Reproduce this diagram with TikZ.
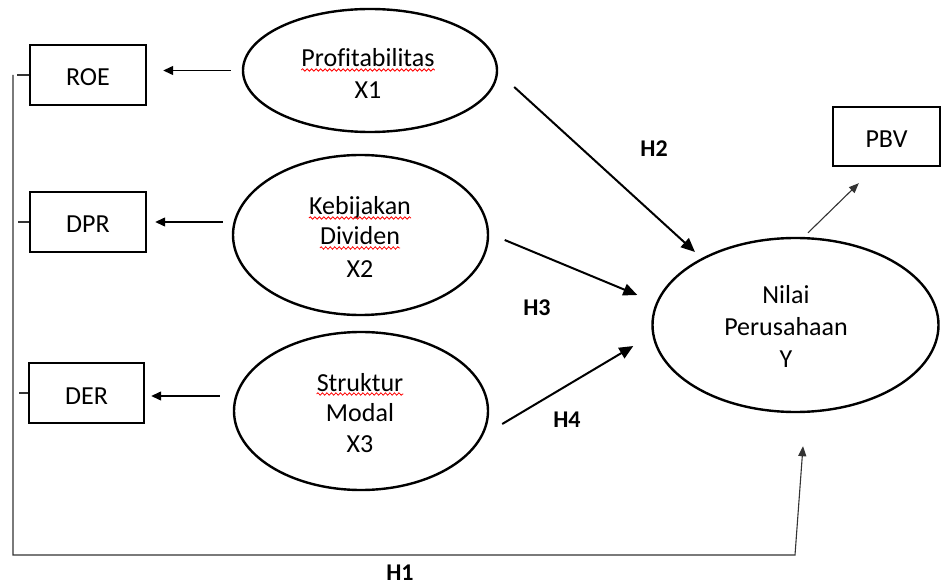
\documentclass[tikz,border=0pt]{standalone}
\usepackage{fontspec}
\setmainfont{Carlito}[Ligatures=NoCommon]
\usetikzlibrary{arrows.meta,shapes.geometric,decorations.pathmorphing}

\tikzset{
 box/.style={draw, line width=2.4pt, minimum width=116pt, minimum height=60pt, inner sep=0pt,
   text height=22pt, text depth=0pt, font=\fontsize{26}{31}\selectfont},
 ell/.style={draw, ellipse, line width=2.4pt, inner sep=0pt},
 txt/.style={inner sep=0pt, anchor=base, font=\fontsize{26}{31}\selectfont},
 hyp/.style={inner sep=0pt, font=\bfseries\fontsize{24}{28}\selectfont},
 larr/.style={line width=1.3pt, -{Triangle[length=10pt,width=9pt]}},
 harr/.style={line width=2pt, -{Triangle[length=14pt,width=12pt]}},
 thinline/.style={line width=1.1pt, black!80},
 wavy/.style={red, line width=0.8pt, decorate, decoration={snake, segment length=4.5pt, amplitude=1.2pt}},
}

\begin{document}
\begin{tikzpicture}[x=1pt,y=-1pt]
\path[use as bounding box] (0,0) rectangle (942,585);

% indicator boxes
\node[box] (ROE) at (88,75) {ROE};
\node[box] (DPR) at (88,222) {DPR};
\node[box, minimum width=115pt] (DER) at (86.5,393) {DER};
\node[box, minimum width=107pt, minimum height=59pt] (PBV) at (886.5,136.5) {PBV};

% latent variables
\node[ell, minimum width=254pt, minimum height=123pt] (X1) at (370,70.5) {};
\node[ell, minimum width=255pt, minimum height=160pt] (X2) at (360.5,235) {};
\node[ell, minimum width=254pt, minimum height=158pt] (X3) at (361,411) {};
\node[ell, minimum width=286pt, minimum height=174pt] (Y) at (795.5,325) {};

% texts
\node[txt] (t1a) at (368,67) {Profitabilitas};
\node[txt] (t1b) at (368,99) {X1};
\node[txt] (t2a) at (360,215) {Kebijakan};
\node[txt] (t2b) at (360,245) {Dividen};
\node[txt] (t2c) at (360,277) {X2};
\node[txt] (t3a) at (360,391) {Struktur};
\node[txt] (t3b) at (360,421) {Modal};
\node[txt] (t3c) at (360,452) {X3};
\node[txt] (tya) at (786,303) {Nilai};
\node[txt] (tyb) at (786,335) {Perusahaan};
\node[txt] (tyc) at (786,367) {Y};

% spell-check underlines
\foreach \n in {t1a,t2a,t2b,t3a}
  \draw[wavy] ([yshift=-3pt]\n.base west) -- ([yshift=-3pt]\n.base east);

% hypothesis labels
\node[hyp] (H1) at (400,573) {H1};
\node[hyp] (H2) at (654,149) {H2};
\node[hyp] (H3) at (537,308) {H3};
\node[hyp] (H4) at (567,420) {H4};

% indicator arrows
\draw[larr] ([xshift=-11pt]X1.west) -- ([xshift=16pt]X1.west -| ROE.east);
\draw[larr] ([xshift=-9pt]X2.west |- DPR.east) -- ([xshift=8pt]DPR.east);
\draw[larr] ([xshift=-13pt,yshift=-3pt]X3.west |- DER.east) -- ([xshift=6pt,yshift=-3pt]DER.east);
\draw[thinline, -{Triangle[length=10pt,width=8pt]}] ([shift={(12.5,-4)}]Y.north) -- ([shift={(27,16)}]PBV.south west);

% stubs on the boxes
\draw[thinline] (ROE.west) -- ++(-12,0);
\draw[thinline] (DPR.west) -- ++(-11,0);
\draw[thinline] (DER.west) -- ++(-9,0);

% hypothesis arrows
\draw[harr] ([shift={(16,16.5)}]X1.east) -- ([shift={(-100.5,-73)}]Y.center);
\draw[harr] ([shift={(15.5,5)}]X2.east) -- ([shift={(-14,-30)}]Y.west);
\draw[harr] ([shift={(13,13)}]X3.east) -- ([shift={(-18,21)}]Y.west);

% H1 path
\coordinate (h1a) at (13,75);
\coordinate (h1b) at (13,555);
\coordinate (h1c) at (795,555);
\draw[thinline, -{Triangle[length=10pt,width=8pt]}] (h1a) -- (h1b) -- (h1c) -- ([shift={(7.5,33)}]Y.south);
\end{tikzpicture}
\end{document}
